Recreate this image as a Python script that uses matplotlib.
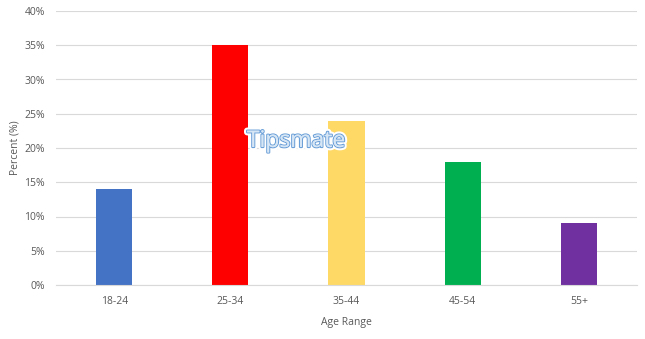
import matplotlib
matplotlib.use("Agg")
import matplotlib.pyplot as plt
import matplotlib.patheffects as pe
from matplotlib.ticker import PercentFormatter

ages = ["18-24", "25-34", "35-44", "45-54", "55+"]
percent = [14, 35, 24, 18, 9]
colors = ["#4472c4", "#ff0000", "#ffd966", "#00b050", "#7030a0"]

plt.rcParams["font.family"] = ["Open Sans", "DejaVu Sans"]
TXT = "#595959"

fig = plt.figure(figsize=(6.45, 3.39), dpi=100)
ax = fig.add_axes([56 / 645, 54 / 339, 581 / 645, 274 / 339])

x = range(len(ages))
ax.bar(x, percent, width=0.31, color=colors, zorder=2)

ax.set_xlim(-0.5, len(ages) - 0.5)
ax.set_ylim(0, 40)
ax.set_yticks(range(0, 41, 5))
ax.yaxis.set_major_formatter(PercentFormatter(decimals=0))
ax.set_xticks(list(x))
ax.set_xticklabels(ages)
ax.grid(axis="y", color="#d9d9d9", lw=0.8, zorder=0)
ax.tick_params(length=0, labelsize=7.5, colors=TXT, pad=8)
for s in ["top", "right", "left"]:
    ax.spines[s].set_visible(False)
ax.spines["bottom"].set_color("#d9d9d9")
ax.spines["bottom"].set_linewidth(0.8)

ax.set_xlabel("Age Range", fontsize=7.5, color=TXT, labelpad=7)
ax.set_ylabel("Percent (%)", fontsize=7.5, color=TXT, labelpad=3)

fig.text(296 / 645, 1 - 141 / 339, "Tipsmate", fontsize=16.5, color="#d6e6f5",
         ha="center", va="center",
         path_effects=[pe.withStroke(linewidth=4.5, foreground="white"),
                       pe.withStroke(linewidth=1.6, foreground="#6a9fd8"),
                       pe.Normal()])

fig.savefig("out.png", dpi=100)
